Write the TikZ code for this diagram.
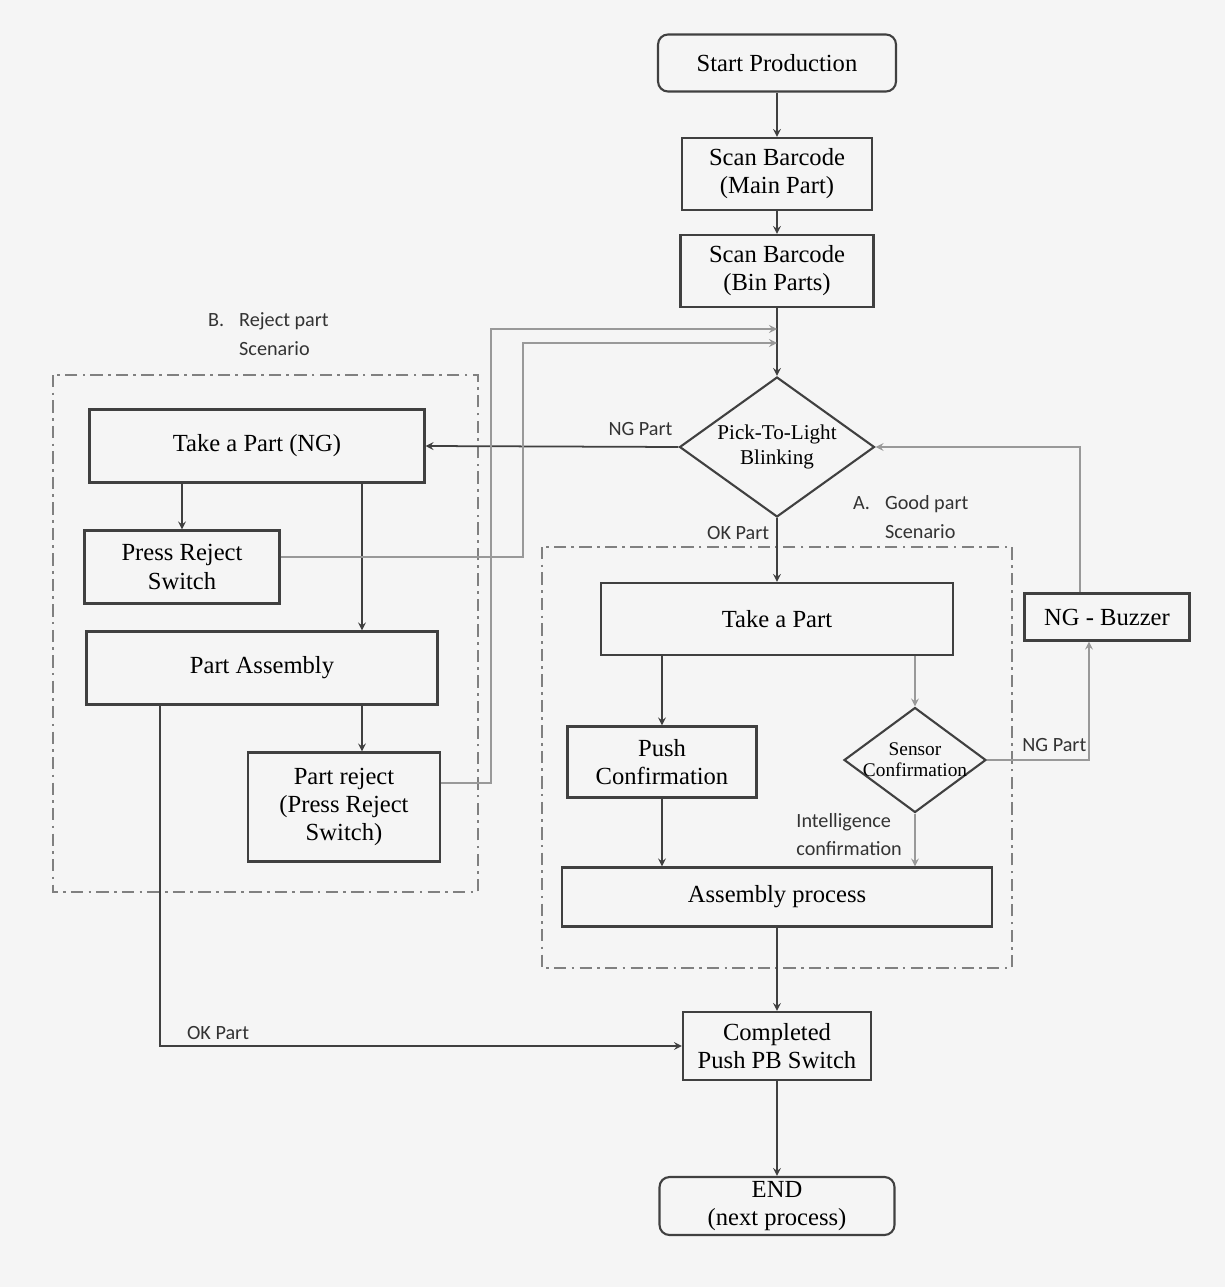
\documentclass[tikz,border=0pt]{standalone}
\usepackage{fontspec}
\setmainfont{Liberation Serif}
\newfontfamily\labelfont{Carlito}
\usetikzlibrary{shapes.geometric}

\newcommand{\tightline}[1]{\makebox[0pt]{#1}}

\tikzset{
  stepbox/.style={draw=black!75, line width=1.2pt, minimum height=1.44cm, align=center,
    font=\fontsize{14}{16}\selectfont, inner sep=2pt},
  roundbox/.style={stepbox, rounded corners=0.2cm},
  decide/.style={diamond, draw=black!75, line width=1.2pt, align=center, inner sep=0pt,
    font=\fontsize{12}{14}\selectfont},
  scenario/.style={draw=gray, line width=1pt, dash pattern=on 7pt off 3pt on 1.5pt off 3pt},
  flow/.style={->, draw=black!75, line width=1pt},
  back/.style={->, draw=gray!80, line width=1pt},
  note/.style={font=\labelfont\fontsize{11.5}{17}\selectfont, text=black!80, inner sep=1pt},
}

\begin{document}
\begin{tikzpicture}[x=0.02cm, y=-0.02cm, >=stealth]

\fill[white!96!black] (0,0) rectangle (1225,1287);
\useasboundingbox (0,0) rectangle (1225,1287);

% scenario frames
\draw[scenario] (53,375) rectangle (478,892);
\draw[scenario] (542,547) rectangle (1012,968);
\node[note, anchor=north west] (scnB) at (206,303) {\begin{tabular}{@{}l@{\hspace{0.3cm}}l@{}}B. & Reject part\\ & Scenario\end{tabular}};
\node[note, anchor=north west] (scnA) at (851,486) {\begin{tabular}{@{}l@{\hspace{0.3cm}}l@{}}A. & Good part\\ & Scenario\end{tabular}};

% main column
\node[roundbox, minimum width=4.76cm, minimum height=1.14cm] (start) at (777,63) {Start Production};
\node[stepbox, minimum width=3.8cm] (scanA) at (777,174) {Scan Barcode\\(Main Part)};
\node[stepbox, minimum width=3.86cm] (scanB) at (777,271) {Scan Barcode\\(Bin Parts)};
\node[decide, minimum width=3.9cm, minimum height=2.8cm] (pick) at (777,447) {\tightline{Pick-To-Light}\\\tightline{Blinking}};

% reject part scenario
\node[stepbox, minimum width=6.7cm, minimum height=1.46cm] (takeNG) at (257,446) {Take a Part (NG)};
\node[stepbox, minimum width=3.9cm, minimum height=1.46cm] (pressRej) at (182,567) {Press Reject\\Switch};
\node[stepbox, minimum width=7.02cm, minimum height=1.46cm] (partAsm) at (262,668) {Part Assembly};
\node[stepbox, minimum width=3.84cm, minimum height=2.18cm] (partRej) at (344,807) {Part reject\\(Press Reject\\Switch)};

% good part scenario
\node[stepbox, minimum width=7.04cm] (takeOK) at (777,619) {Take a Part};
\node[stepbox, minimum width=3.3cm, minimum height=0.94cm] (buzzer) at (1107,617) {NG - Buzzer};
\node[stepbox, minimum width=3.78cm, minimum height=1.42cm] (push) at (662,762) {Push\\Confirmation};
\node[decide, minimum width=2.84cm, minimum height=2.1cm, font=\fontsize{11}{12}\selectfont] (sensor) at (915,760) {\tightline{Sensor}\\\tightline{Confirmation}};
\node[stepbox, minimum width=8.6cm, minimum height=1.18cm] (asm) at (777,897) {Assembly process};

% finish
\node[stepbox, minimum width=3.76cm, minimum height=1.36cm] (done) at (777,1046) {Completed\\Push PB Switch};
\node[roundbox, minimum width=4.7cm, minimum height=1.16cm] (endn) at (777,1206) {END\\(next process)};

\coordinate (inA) at (777,329);
\coordinate (inB) at (777,343);
\coordinate (lpA) at (491,329);
\coordinate (lpB) at (523,343);
\coordinate (ngDrop) at ([xshift=2.1cm]takeNG.south);
\coordinate (asmDrop) at ([xshift=2cm]partAsm.south);
\coordinate (okDrop) at ([xshift=-2.04cm]partAsm.south);

\draw[flow] (start) -- (scanA);
\draw[flow] (scanA) -- (scanB);
\draw[flow] (scanB) -- (pick);
\draw[flow] (pick.west) -- (takeNG.east) node[note, pos=0.15, above=5pt] {NG Part};
\draw[flow] (pick.south) -- (takeOK.north) node[note, pos=0.24, left=3pt] {OK Part};

\draw[flow] (takeNG.south -| pressRej.north) -- (pressRej.north);
\draw[flow] (ngDrop) -- (ngDrop |- partAsm.north);
\draw[flow] (asmDrop) -- (asmDrop |- partRej.north);
\draw[back] ([yshift=0.2cm]pressRej.east) -| (lpB) -- (inB);
\draw[back] ([yshift=0.48cm]partRej.east) -| (lpA) -- (inA);

\draw[flow] (takeOK.south -| push.north) -- (push.north);
\draw[back] (takeOK.south -| sensor.north) -- (sensor.north);
\draw[flow] (push.south) -- (push.south |- asm.north);
\draw[back] (sensor.south) -- (sensor.south |- asm.north) node[note, pos=0.4, left=6pt, align=left, font=\labelfont\fontsize{11.5}{16}\selectfont] {Intelligence\\confirmation};
\draw[back] (sensor.east) -| ([xshift=-0.36cm]buzzer.south) node[note, pos=0.33, above=3pt] {NG Part};
\draw[back] ([xshift=-0.54cm]buzzer.north) |- (pick.east);

\draw[flow] (asm) -- (done);
\draw[flow] (okDrop) |- (done.west) node[note, pos=0.52, above right=2pt] {OK Part};
\draw[flow] (done) -- (endn);

\end{tikzpicture}
\end{document}
